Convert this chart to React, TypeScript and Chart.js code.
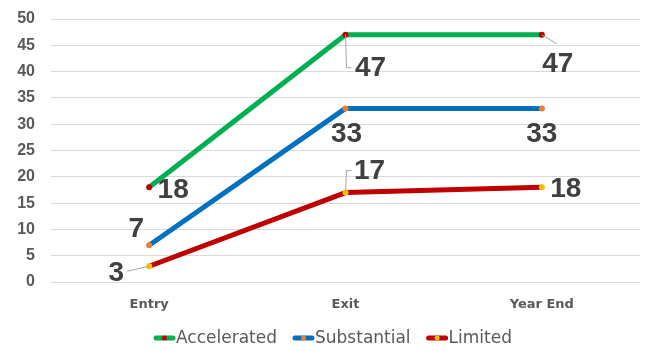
import React, { useEffect, useRef } from "react";
import { Chart, registerables } from "chart.js";

Chart.register(...registerables);

const categories = ["Entry", "Exit", "Year End"];
const accelerated = [18, 47, 47];
const substantial = [7, 33, 33];
const limited = [3, 17, 18];
const seriesNames = ["Accelerated", "Substantial", "Limited"];

const lineColors = ["#00b050", "#0070c0", "#c00000"];
const markerColors = ["#c00000", "#ed7d31", "#ffc000"];

// label offsets (px) relative to each point, and optional leader polylines
const labelOffsets = [
  [[24, 2], [25, 33], [16, 29]],
  [[-13, -17], [1, 25], [0, 25]],
  [[-33, 6], [24, -22], [24, 1]],
];
const leaders: (number[][] | null)[][] = [
  [null, [[0, 0], [1, 33], [6, 33]], [[0, 0], [15, 9]]],
  [null, null, null],
  [[[0, 0], [-22, 5]], [[0, 0], [1, -22], [6, -22]], null],
];

const labelPlugin = {
  id: "customLabels",
  afterDatasetsDraw(chart: any) {
    const ctx = chart.ctx;
    ctx.save();
    chart.data.datasets.forEach((ds: any, i: number) => {
      const meta = chart.getDatasetMeta(i);
      meta.data.forEach((pt: any, j: number) => {
        const x = pt.x;
        const y = pt.y;
        const ld = leaders[i][j];
        if (ld) {
          ctx.strokeStyle = "#a6a6a6";
          ctx.lineWidth = 1;
          ctx.beginPath();
          ld.forEach((p, k) => {
            if (k === 0) ctx.moveTo(x + p[0], y + p[1]);
            else ctx.lineTo(x + p[0], y + p[1]);
          });
          ctx.stroke();
        }
        const off = labelOffsets[i][j];
        ctx.fillStyle = "#404040";
        ctx.font = "bold 28px 'Liberation Sans', Arial, sans-serif";
        ctx.textAlign = "center";
        ctx.textBaseline = "middle";
        ctx.fillText(String(ds.data[j]), x + off[0], y + off[1] + 1);
      });
    });
    ctx.restore();
  },
};

const legendPlugin = {
  id: "customLegend",
  afterDraw(chart: any) {
    const ctx = chart.ctx;
    ctx.save();
    ctx.font = "17px 'DejaVu Sans', sans-serif";
    const iconW = 23;
    const gap = 15;
    const widths = seriesNames.map((n) => ctx.measureText(n).width);
    const total = widths.reduce((a, b) => a + b + iconW, 0) + gap * (seriesNames.length - 1);
    let x = chart.width / 2 + 8 - total / 2;
    const y = 338;
    seriesNames.forEach((n, i) => {
      ctx.strokeStyle = lineColors[i];
      ctx.lineWidth = 5;
      ctx.lineCap = "round";
      ctx.beginPath();
      ctx.moveTo(x + 3, y);
      ctx.lineTo(x + iconW - 3, y);
      ctx.stroke();
      ctx.fillStyle = markerColors[i];
      ctx.beginPath();
      ctx.arc(x + iconW / 2, y, 2.5, 0, Math.PI * 2);
      ctx.fill();
      ctx.fillStyle = "#595959";
      ctx.textAlign = "left";
      ctx.textBaseline = "middle";
      ctx.fillText(n, x + iconW, y + 1);
      x += iconW + widths[i] + gap;
    });
    ctx.restore();
  },
};

export default function App() {
  const ref = useRef<HTMLCanvasElement>(null);
  useEffect(() => {
    const all = [accelerated, substantial, limited];
    const chart = new Chart(ref.current!, {
      type: "line",
      data: {
        labels: categories,
        datasets: all.map((d, i) => ({
          label: seriesNames[i],
          data: d,
          borderColor: lineColors[i],
          backgroundColor: markerColors[i],
          borderWidth: 5,
          pointRadius: 3,
          pointBorderWidth: 0,
          pointBackgroundColor: markerColors[i],
          borderCapStyle: "round",
          borderJoinStyle: "round",
          tension: 0,
          fill: false,
        })),
      },
      options: {
        animation: false,
        responsive: false,
        maintainAspectRatio: false,
        layout: { padding: { left: 0, right: 9, top: 19, bottom: 36 } },
        plugins: {
          tooltip: { enabled: false },
          legend: { display: false },
        },
        scales: {
          x: {
            offset: true,
            grid: { display: false, drawTicks: false },
            border: { display: false },
            ticks: {
              color: "#595959",
              font: { family: "'DejaVu Sans', sans-serif", size: 13, weight: "bold" },
              padding: 15,
            },
            afterFit: (s: any) => {
              s.height = 33;
            },
          },
          y: {
            min: 0,
            max: 50,
            ticks: {
              stepSize: 5,
              color: "#595959",
              font: { family: "'Liberation Sans', Arial, sans-serif", size: 16, weight: "bold" },
              padding: 16,
            },
            grid: { color: "#d9d9d9", lineWidth: 1, drawTicks: false },
            border: { display: false },
            afterFit: (s: any) => {
              s.width = 51;
              s.paddingTop = 0;
              s.paddingBottom = 0;
            },
          },
        },
      },
      plugins: [labelPlugin, legendPlugin],
    } as any);
    return () => chart.destroy();
  }, []);
  return (
    <div style={{ position: "fixed", left: 0, top: 0, width: 649, height: 351, background: "#fff" }}>
      <canvas ref={ref} width={649} height={351} style={{ width: 649, height: 351 }} />
    </div>
  );
}
